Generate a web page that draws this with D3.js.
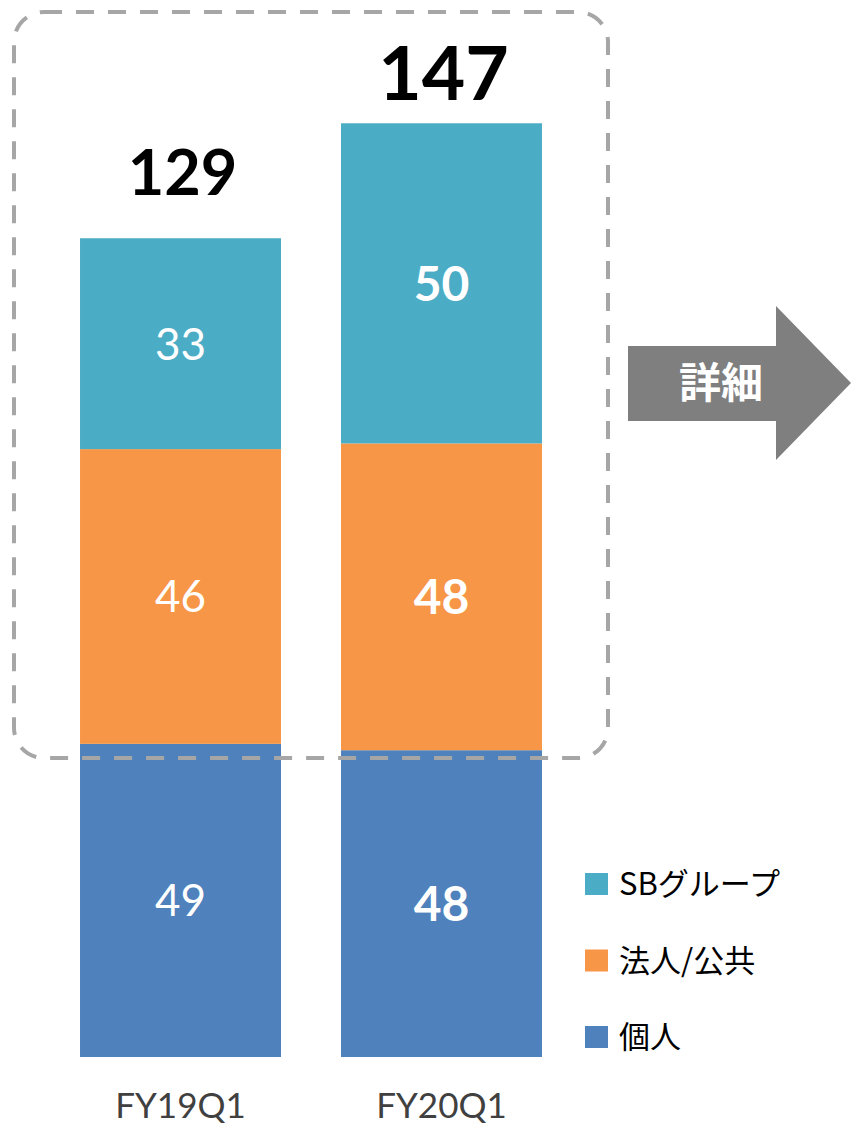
<!DOCTYPE html>
<html><head><meta charset="utf-8">
<script src="https://cdn.jsdelivr.net/npm/d3@7"></script>
<style>body{margin:0;background:#fff}svg{display:block}</style>
</head><body>
<script>
const categories = ["FY19Q1", "FY20Q1"];
const seriesNames = ["個人", "法人/公共", "SBグループ"];
const kojin = [49.3, 48.3];
const hojin = [46.4, 48.3];
const sbGroup = [33.2, 50.4];
const totals = [129, 147];
const legendOrder = ["SBグループ", "法人/公共", "個人"];
const colors = {"SBグループ": "#4BACC6", "法人/公共": "#F79646", "個人": "#4F81BD"};

const W = 851, H = 1128;
const svg = d3.select("body").append("svg").attr("width", W).attr("height", H);
const FONT = "Lato, 'Noto Sans CJK JP', sans-serif";

const x = d3.scaleBand().domain(categories).range([20, 602]).paddingInner(0.23).paddingOuter(0.23);
const y = d3.scaleLinear().domain([0, 147.2]).range([1057, 122]);

const table = categories.map((c, i) => ({cat: c, "個人": kojin[i], "法人/公共": hojin[i], "SBグループ": sbGroup[i]}));
const stack = d3.stack().keys(seriesNames)(table);

const g = svg.append("g");
stack.forEach(layer => {
  g.selectAll(null).data(layer).join("rect")
    .attr("x", d => x(d.data.cat))
    .attr("width", x.bandwidth())
    .attr("y", d => y(d[1]))
    .attr("height", d => y(d[0]) - y(d[1]))
    .attr("fill", colors[layer.key]);
  g.selectAll(null).data(layer).join("text")
    .attr("x", d => x(d.data.cat) + x.bandwidth() / 2)
    .attr("y", d => (y(d[0]) + y(d[1])) / 2)
    .attr("dy", "0.36em")
    .attr("text-anchor", "middle")
    .attr("fill", "#fff")
    .attr("font-family", FONT)
    .attr("font-size", (d, i) => i === 0 ? 44 : 48)
    .attr("font-weight", (d, i) => i === 0 ? 400 : 700)
    .text(d => Math.round(d[1] - d[0]));
});

// totals
g.selectAll(null).data(categories).join("text")
  .attr("x", c => x(c) + x.bandwidth() / 2 + 2)
  .attr("y", (c, i) => i === 0 ? 195 : 100)
  .attr("text-anchor", "middle")
  .attr("font-family", FONT)
  .attr("font-size", (c, i) => i === 0 ? 63 : 75)
  .attr("font-weight", 700)
  .attr("fill", "#000")
  .text((c, i) => totals[i]);

// category labels
g.selectAll(null).data(categories).join("text")
  .attr("x", c => x(c) + x.bandwidth() / 2)
  .attr("y", 1118)
  .attr("text-anchor", "middle")
  .attr("font-family", FONT)
  .attr("font-size", 35)
  .attr("fill", "#404040")
  .text(c => c);

// dashed rounded frame
svg.append("rect")
  .attr("x", 14).attr("y", 12).attr("width", 594).attr("height", 746)
  .attr("rx", 30).attr("ry", 30)
  .attr("fill", "none").attr("stroke", "#A6A6A6")
  .attr("stroke-width", 4).attr("stroke-dasharray", "18,14");

// arrow
svg.append("path")
  .attr("d", "M628,346 L776,346 L776,306 L851,383 L776,460 L776,421 L628,421 Z")
  .attr("fill", "#7F7F7F");
svg.append("text")
  .attr("x", 721).attr("y", 383).attr("dy", "0.36em")
  .attr("text-anchor", "middle")
  .attr("font-family", "'Noto Sans CJK JP', sans-serif")
  .attr("font-size", 42).attr("font-weight", 700)
  .attr("fill", "#fff").text("詳細");

// legend
const lg = svg.append("g");
legendOrder.forEach((k, i) => {
  const cy = 884 + i * 76.5;
  lg.append("rect").attr("x", 585).attr("y", cy - 11).attr("width", 23).attr("height", 22).attr("fill", colors[k]);
  lg.append("text").attr("x", 619).attr("y", cy).attr("dy", "0.36em")
    .attr("font-family", "'Noto Sans CJK JP', sans-serif")
    .attr("font-size", 31).attr("fill", "#000").text(k);
});
</script>
</body></html>
